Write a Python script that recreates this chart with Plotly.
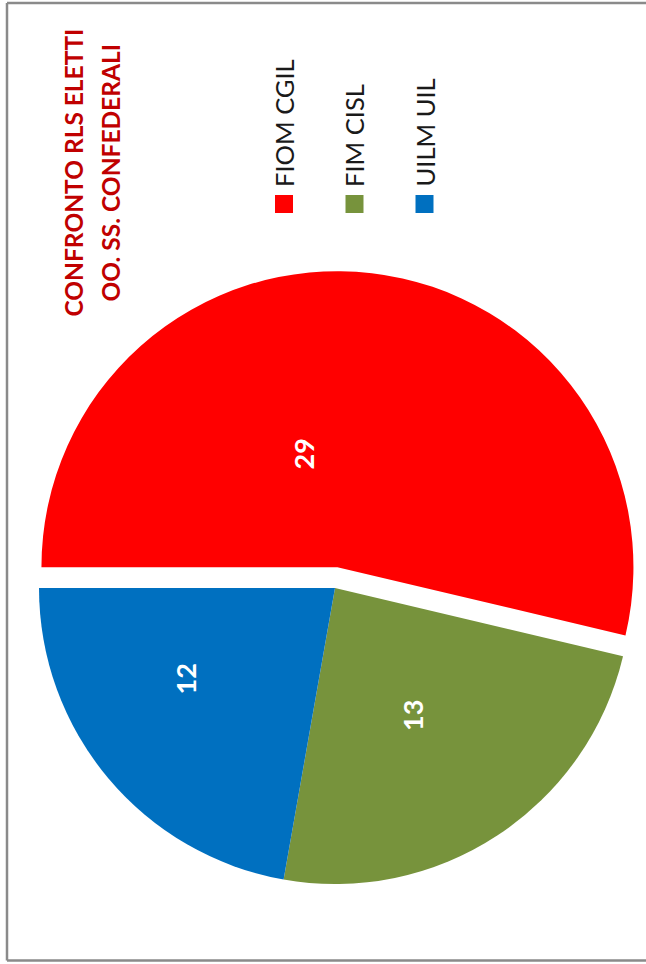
import math
import plotly.graph_objects as go

# ---- data ----
labels = ["FIOM CGIL", "FIM CISL", "UILM UIL"]
values = [29, 13, 12]
colors = ["#FF0000", "#77933C", "#0070C0"]
title_lines = ["CONFRONTO RLS ELETTI", "OO. SS. CONFEDERALI"]

# ---- layout constants (pixels, page coordinates) ----
W, H = 646, 964
CX, CY, R = 335.0, 588.0, 296.0      # pie centre / radius
PULL = 0.071                          # exploded fraction of first slice
ROT = -90                             # first slice starts at 9 o'clock, clockwise
LBL_FRAC = [0.40, 0.506, 0.591]
LBL_DANG = [23.1, -1.9, -8.7]

FONT = "Lato, Carlito, Calibri, sans-serif"

def fx(x):
    return x / W

def fy(y):
    return (H - y) / H

def px_dom(cx, cy, r):
    return dict(x=[fx(cx - r), fx(cx + r)], y=[fy(cy + r), fy(cy - r)])

total = sum(values)
mids = []
start_clock = ROT
for v in values:
    span = 360.0 * v / total
    mids.append(90 - (start_clock + span / 2))
    start_clock += span

d = PULL * R
pcx = CX + d * math.cos(math.radians(mids[0]))
pcy = CY - d * math.sin(math.radians(mids[0]))

fig = go.Figure()
transparent = "rgba(0,0,0,0)"
fig.add_trace(go.Pie(
    labels=labels, values=values, sort=False, direction="clockwise", rotation=ROT,
    marker=dict(colors=[transparent] + colors[1:], line=dict(width=0)),
    textinfo="none", hoverinfo="skip", showlegend=False,
    domain=px_dom(CX, CY, R)))
fig.add_trace(go.Pie(
    labels=labels, values=values, sort=False, direction="clockwise", rotation=ROT,
    marker=dict(colors=[colors[0]] + [transparent] * (len(values) - 1), line=dict(width=0)),
    textinfo="none", hoverinfo="skip", showlegend=False,
    domain=px_dom(pcx, pcy, R)))

annotations = []
shapes = []
for i, v in enumerate(values):
    cx, cy = (pcx, pcy) if i == 0 else (CX, CY)
    a = math.radians(mids[i] + LBL_DANG[i])
    lx = cx + LBL_FRAC[i] * R * math.cos(a)
    ly = cy - LBL_FRAC[i] * R * math.sin(a)
    annotations.append(dict(x=fx(lx), y=fy(ly), xref="paper", yref="paper",
                            text=f"<b>{v}</b>", showarrow=False, textangle=-90,
                            xanchor="center", yanchor="middle",
                            font=dict(family=FONT, size=27, color="white")))

for i, t in enumerate(title_lines):
    tx = 72.5 + 37 * i
    annotations.append(dict(x=fx(tx), y=fy(173), xref="paper", yref="paper",
                            text=f"<b>{t}</b>", showarrow=False, textangle=-90,
                            xanchor="center", yanchor="middle",
                            font=dict(family=FONT, size=24.5, color="#C00000")))

leg_x = [284, 354.5, 424.5]
for i, lab in enumerate(labels):
    x = leg_x[i]
    annotations.append(dict(x=fx(x), y=fy(189), xref="paper", yref="paper",
                            text=lab, showarrow=False, textangle=-90,
                            xanchor="center", yanchor="bottom",
                            font=dict(family=FONT, size=25.5, color="#1a1a1a")))
    s = 9
    shapes.append(dict(type="rect", xref="paper", yref="paper",
                       x0=fx(x - s), x1=fx(x + s), y0=fy(204 + s), y1=fy(204 - s),
                       fillcolor=colors[i], line=dict(width=0)))

# outer frame: left, top, bottom edges (right edge is cropped in the reference)
frame = dict(color="#8a8a8a", width=2.5)
L, T, B = 7, 3, 960.5
shapes.append(dict(type="line", xref="paper", yref="paper",
                   x0=fx(L), x1=fx(L), y0=fy(B), y1=fy(T), line=frame))
shapes.append(dict(type="line", xref="paper", yref="paper",
                   x0=fx(L), x1=1.0, y0=fy(T), y1=fy(T), line=frame))
shapes.append(dict(type="line", xref="paper", yref="paper",
                   x0=fx(L), x1=1.0, y0=fy(B), y1=fy(B), line=frame))

fig.update_layout(width=W, height=H, margin=dict(l=0, r=0, t=0, b=0),
                  paper_bgcolor="white", plot_bgcolor="white",
                  showlegend=False, annotations=annotations, shapes=shapes)

fig.write_html("out.html", config={"displayModeBar": False},
               post_script=("document.documentElement.style.overflow='hidden';"
                            "document.body.style.margin='0';"
                            "document.body.style.overflow='hidden';"))
